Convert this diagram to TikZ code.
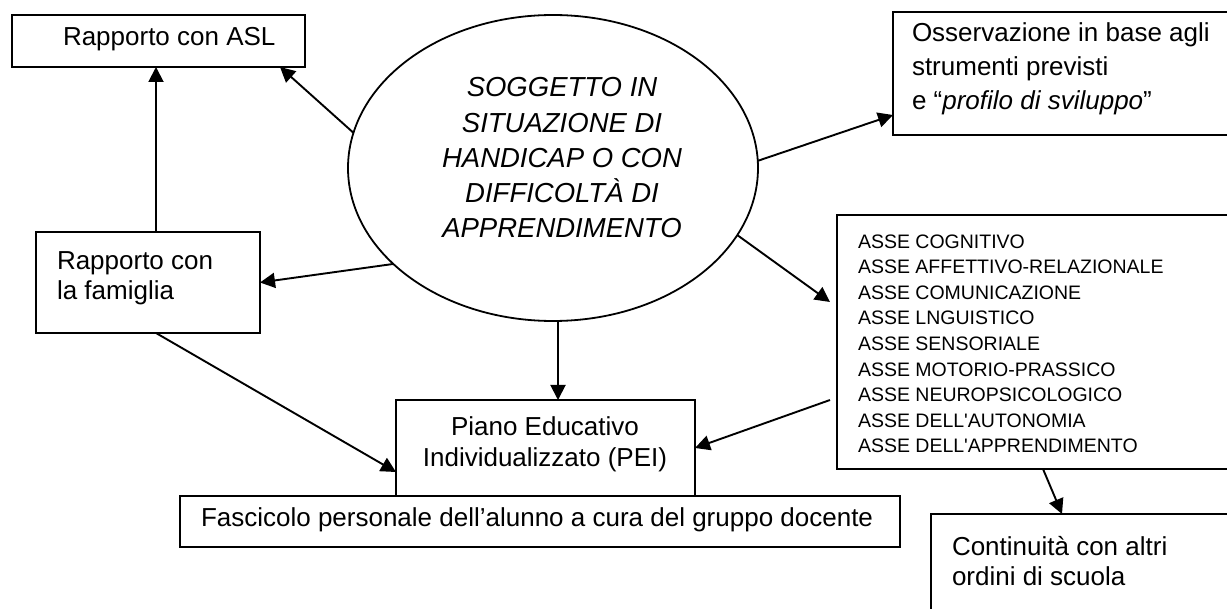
\documentclass[tikz,border=0pt]{standalone}
\usepackage{fontspec}
\setmainfont{Liberation Sans}
\usetikzlibrary{arrows.meta,shapes.geometric,positioning}

\begin{document}
\begin{tikzpicture}[x=1pt,y=-1pt,
  box/.style={draw=drawColor,line width=2pt,inner sep=0pt,outer sep=0pt,anchor=north west},
  txt/.style={text=drawColor,anchor=base west,inner sep=0pt,outer sep=0pt,align=left,font=\fontsize{26}{31}\selectfont},
  arr/.style={draw=drawColor,line width=1.9pt,-{Triangle[length=15pt,width=15pt]}}]
\definecolor{drawColor}{RGB}{0,0,0}
\path[use as bounding box,fill=white] (0,0) rectangle (1227,609);
\begin{scope}
\path[clip] (0,0) rectangle (1227,609);

\node[box,minimum width=293pt,minimum height=52pt] (asl) at (12,15) {};
\node[box,minimum width=224pt,minimum height=101pt] (famiglia) at (36,232) {};
\node[box,minimum width=360pt,minimum height=123pt] (oss) at (893,12) {};
\node[box,minimum width=420pt,minimum height=254pt] (asse) at (837,215) {};
\node[box,minimum width=299pt,minimum height=96pt] (pei) at (396,400) {};
\node[box,minimum width=720pt,minimum height=51pt,fill=white] (fascicolo) at (180,496) {};
\node[box,minimum width=320pt,minimum height=130pt] (cont) at (931,514) {};
\node[draw=drawColor,line width=1.8pt,ellipse,minimum width=410pt,minimum height=306pt,inner sep=0pt,outer sep=0pt] (soggetto) at (553,168) {};

\node[txt] (asltxt) at (63,46) {Rapporto con ASL};
\node[txt,font=\fontsize{26}{30}\selectfont] (famtxt) at (57,300) {Rapporto con\\la famiglia};
\node[txt,font=\fontsize{26}{34}\selectfont] (osstxt) at (912,110) {Osservazione in base agli\\strumenti previsti\\e “\textit{profilo di sviluppo}”};
\node[txt,font=\fontsize{19.5}{25.6}\selectfont] (assetxt) at (858,453) {ASSE COGNITIVO\\ASSE AFFETTIVO-RELAZIONALE\\ASSE COMUNICAZIONE\\ASSE LNGUISTICO\\ASSE SENSORIALE\\ASSE MOTORIO-PRASSICO\\ASSE NEUROPSICOLOGICO\\ASSE DELL\textquotesingle AUTONOMIA\\ASSE DELL\textquotesingle APPRENDIMENTO};
\node[txt,align=center,anchor=base] (peitxt) at (545,467) {Piano Educativo\\Individualizzato (PEI)};
\node[txt] (fasctxt) at (201,526) {Fascicolo personale dell’alunno a cura del gruppo docente};
\node[txt,font=\fontsize{26}{30}\selectfont] (conttxt) at (952,585) {Continuità con altri\\ordini di scuola};
\node[txt,align=center,anchor=base,font=\fontsize{27.5}{35.25}\selectfont\itshape] (soggettotxt) at (562,238) {SOGGETTO IN\\SITUAZIONE DI\\HANDICAP O CON\\DIFFICOLTÀ DI\\APPRENDIMENTO};

\draw[arr] (soggetto.170.8) -- ([xshift=-25pt]asl.south east);
\draw[arr] ([xshift=8pt]famiglia.north) -- ([xshift=8pt]famiglia.north |- asl.south);
\draw[arr] (soggetto.211) -- (famiglia.east);
\draw[arr] ([xshift=8pt]famiglia.south) -- ([yshift=-24pt]pei.west);
\draw[arr] ([xshift=5pt]soggetto.south) -- ([xshift=5pt]soggetto.south |- pei.north);
\draw[arr] (soggetto.2.5) -- ([yshift=-41.5pt]oss.west);
\draw[arr] (soggetto.340) -- ([xshift=-7pt,yshift=40pt]asse.west);
\draw[arr] ([xshift=-7pt,yshift=-58pt]asse.west) -- (pei.east);
\draw[arr] ([xshift=206pt]asse.south west) -- ([xshift=131pt]cont.north west);
\end{scope}
\end{tikzpicture}
\end{document}
